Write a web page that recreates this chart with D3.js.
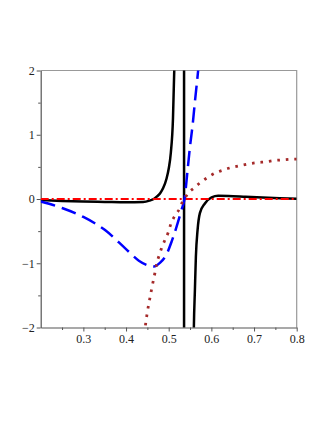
<!DOCTYPE html>
<html>
<head>
<meta charset="utf-8">
<script src="https://cdn.jsdelivr.net/npm/d3@7"></script>
<style>
  html, body { margin: 0; padding: 0; background: #fff; }
  svg { display: block; }
  .tick text { font-family: "Liberation Serif", "DejaVu Serif", serif; font-size: 12px; fill: #222; }
</style>
</head>
<body>
<svg width="327" height="423"></svg>
<script>
// values
var xTicks = [0.3, 0.4, 0.5, 0.6, 0.7, 0.8];
var yTicks = [-2, -1, 0, 1, 2];

var blackLeftX = [0.20, 0.25, 0.30, 0.35, 0.40, 0.44, 0.455, 0.465, 0.472, 0.48, 0.487, 0.495, 0.50, 0.505, 0.51, 0.513, 0.516];
var blackLeftY = [-0.015, -0.03, -0.04, -0.045, -0.05, -0.045, -0.025, 0.0, 0.036, 0.09, 0.17, 0.32, 0.47, 0.72, 1.25, 2.0, 3.0];

var blackJumpX = [0.536, 0.536];
var blackJumpY = [3, -3];

var blackRightX = [0.558, 0.559, 0.5614, 0.5637, 0.5677, 0.5731, 0.5848, 0.6005, 0.616, 0.64, 0.68, 0.72, 0.76, 0.80];
var blackRightY = [-2.5, -2.0, -1.42, -0.90, -0.48, -0.22, -0.07, 0.026, 0.05, 0.048, 0.035, 0.022, 0.012, 0.005];

var blueX = [0.20, 0.25, 0.30, 0.35, 0.40, 0.43, 0.45, 0.465, 0.48, 0.495, 0.507, 0.5185, 0.530, 0.537, 0.545, 0.55, 0.556, 0.562, 0.569, 0.573];
var blueY = [-0.04, -0.14, -0.28, -0.48, -0.78, -0.96, -1.03, -1.05, -0.99, -0.86, -0.66, -0.43, -0.17, 0.0, 0.5, 0.82, 1.15, 1.55, 2.0, 2.3];

var brownX = [0.443, 0.446, 0.452, 0.456, 0.46, 0.4677, 0.4717, 0.477, 0.483, 0.491, 0.499, 0.505, 0.5145, 0.526, 0.5325, 0.54, 0.5457, 0.56, 0.573, 0.5925, 0.608, 0.6277, 0.647, 0.667, 0.686, 0.706, 0.729, 0.749, 0.768, 0.79, 0.80];
var brownY = [-2.1, -1.94, -1.68, -1.54, -1.40, -1.15, -1.01, -0.89, -0.77, -0.64, -0.52, -0.39, -0.26, -0.145, -0.04, 0.035, 0.09, 0.175, 0.25, 0.34, 0.40, 0.45, 0.49, 0.52, 0.545, 0.565, 0.58, 0.60, 0.61, 0.62, 0.62];

var redX = [0.2, 0.8];
var redY = [0, 0];

function pts(xs, ys) { return xs.map(function(x, i) { return [x, ys[i]]; }); }

var svg = d3.select("svg"),
    margin = {top: 70.5, right: 30.3, bottom: 95.5, left: 40.7};
var width = +svg.attr("width") - margin.left - margin.right,
    height = +svg.attr("height") - margin.top - margin.bottom;

var g = svg.append("g").attr("transform", "translate(" + margin.left + "," + margin.top + ")");

var x = d3.scaleLinear().domain([0.2, 0.8]).range([0, width]);
var y = d3.scaleLinear().domain([-2, 2]).range([height, 0]);

g.append("clipPath").attr("id", "clip")
  .append("rect").attr("width", width).attr("height", height);

// frame (top and right)
g.append("path")
  .attr("fill", "none").attr("stroke", "#999").attr("stroke-width", 1.2)
  .attr("d", "M0,0H" + width + "V" + height);

// minor ticks
var xMinor = [0.25, 0.35, 0.45, 0.55, 0.65, 0.75];
var yMinor = [-1.5, -0.5, 0.5, 1.5];
g.append("g").attr("transform", "translate(0," + height + ")")
  .call(d3.axisBottom(x).tickValues(xMinor).tickSize(2.5).tickFormat(""))
  .call(function(a) { a.select(".domain").remove(); a.selectAll("line").attr("stroke", "#555"); });
g.append("g")
  .call(d3.axisLeft(y).tickValues(yMinor).tickSize(2.5).tickFormat(""))
  .call(function(a) { a.select(".domain").remove(); a.selectAll("line").attr("stroke", "#555"); });

// major axes
g.append("g").attr("transform", "translate(0," + height + ")")
  .call(d3.axisBottom(x).tickValues(xTicks).tickSize(4).tickSizeOuter(0).tickPadding(3).tickFormat(d3.format(".1f")))
  .call(function(a) {
    a.select(".domain").attr("stroke", "#555").attr("stroke-width", 1.2);
    a.selectAll("line").attr("stroke", "#555");
  });
g.append("g")
  .call(d3.axisLeft(y).tickValues(yTicks).tickSize(4).tickSizeOuter(0).tickPadding(2).tickFormat(function(d) { return d < 0 ? "\u2212" + (-d) : d; }))
  .call(function(a) {
    a.select(".domain").attr("stroke", "#555").attr("stroke-width", 1.2);
    a.selectAll("line").attr("stroke", "#555");
  });

var smooth = d3.line().x(function(d) { return x(d[0]); }).y(function(d) { return y(d[1]); }).curve(d3.curveMonotoneX);
var straight = d3.line().x(function(d) { return x(d[0]); }).y(function(d) { return y(d[1]); });

var plot = g.append("g").attr("clip-path", "url(#clip)");

plot.append("path").datum(pts(blackLeftX, blackLeftY))
  .attr("fill", "none").attr("stroke", "#000").attr("stroke-width", 2.5).attr("d", smooth);
plot.append("path").datum(pts(blackJumpX, blackJumpY))
  .attr("fill", "none").attr("stroke", "#000").attr("stroke-width", 2.5).attr("d", straight);
plot.append("path").datum(pts(blackRightX, blackRightY))
  .attr("fill", "none").attr("stroke", "#000").attr("stroke-width", 2.5).attr("d", smooth);

plot.append("path").datum(pts(redX, redY))
  .attr("fill", "none").attr("stroke", "#f00").attr("stroke-width", 2)
  .attr("stroke-dasharray", "8,3,2,3").attr("d", straight);

plot.append("path").datum(pts(blueX, blueY))
  .attr("fill", "none").attr("stroke", "#0000ff").attr("stroke-width", 2.5)
  .attr("stroke-dasharray", "15,7").attr("d", smooth);

plot.append("path").datum(pts(brownX, brownY))
  .attr("fill", "none").attr("stroke", "#a52a2a").attr("stroke-width", 2.8)
  .attr("stroke-dasharray", "2.6,5.9").attr("d", smooth);
</script>
</body>
</html>
